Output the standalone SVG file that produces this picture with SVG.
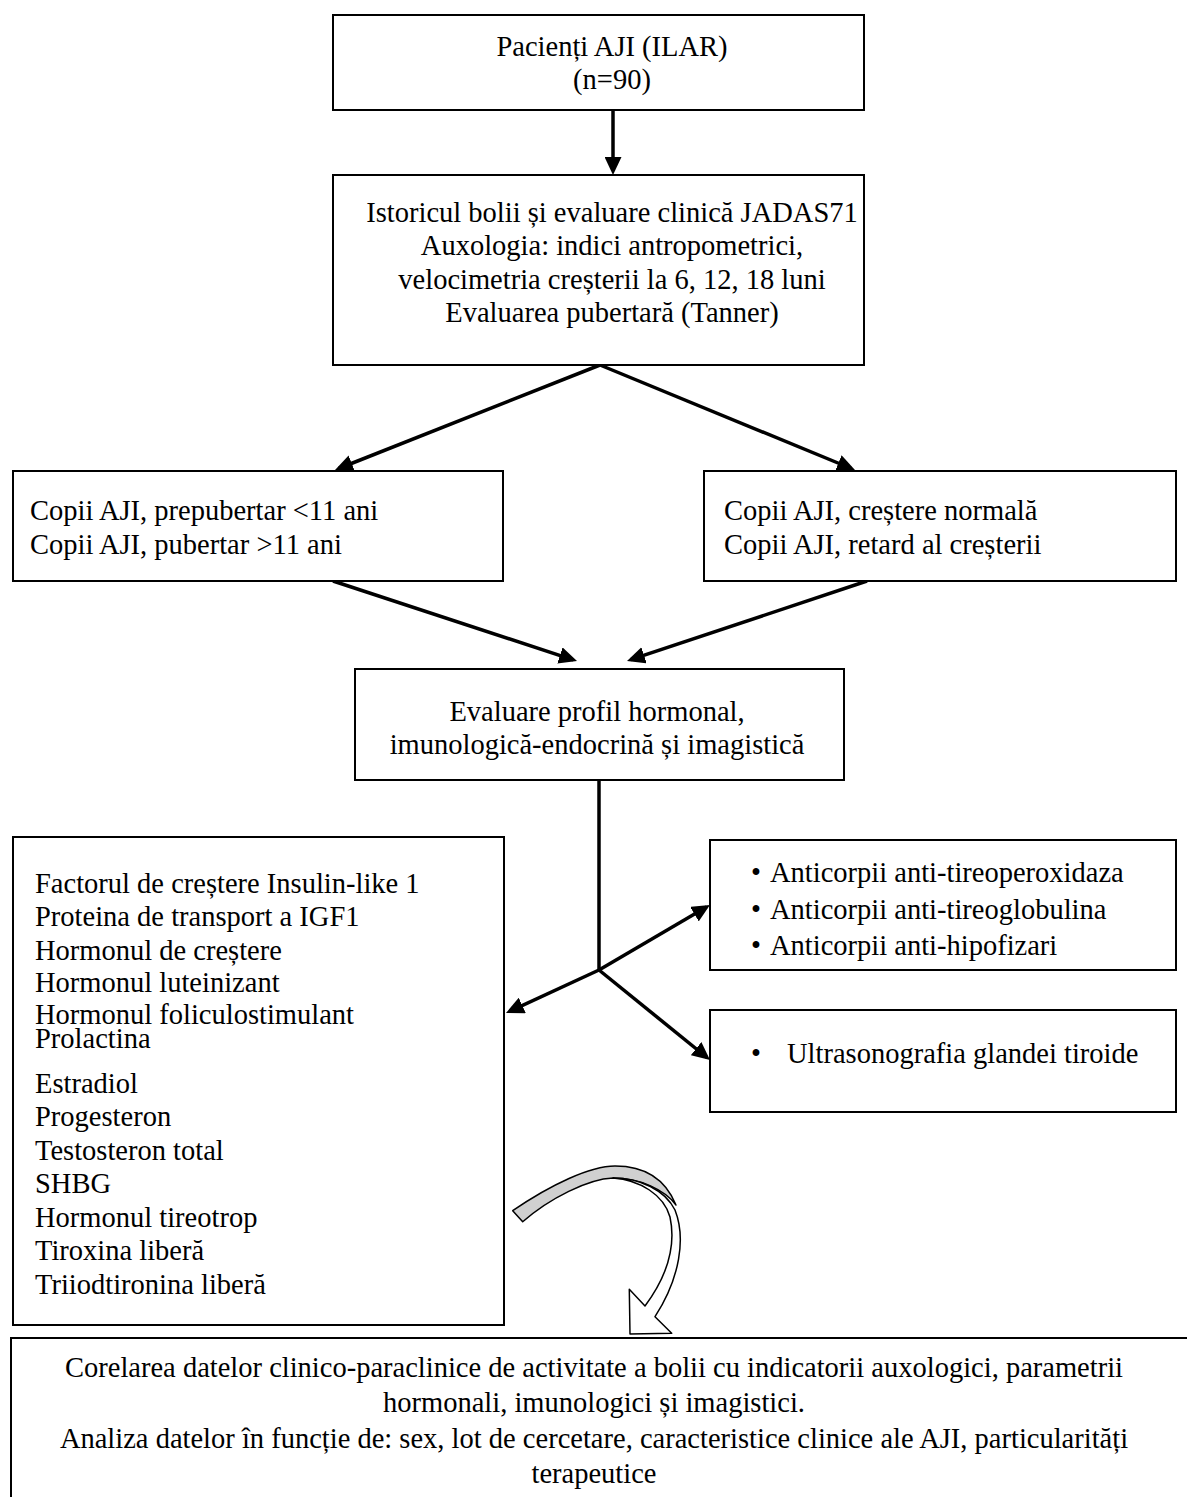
<svg xmlns="http://www.w3.org/2000/svg" width="1187" height="1497" viewBox="0 0 1187 1497">
<style>
.box{fill:#fff;stroke:#000;stroke-width:2}
.t{font-family:"Liberation Serif","Times New Roman",serif;font-size:28.5px;fill:#000}
.c{text-anchor:middle}
.con{stroke:#000;stroke-width:3.5;fill:none}
.arr{marker-end:url(#ah)}
</style>
<defs>
<marker id="ah" viewBox="0 0 18 17" markerWidth="18" markerHeight="17" refX="14" refY="8.5" orient="auto" markerUnits="userSpaceOnUse">
<path d="M0,0 L18,8.5 L0,17 z" fill="#000"/>
</marker>
</defs>
<rect width="1187" height="1497" fill="#fff"/>

<g id="connectors">
<line class="con arr" x1="613" y1="110" x2="613" y2="171"/>
<line class="con arr" x1="600" y1="365" x2="338.7" y2="468.5"/>
<line class="con arr" x1="600" y1="365" x2="851.3" y2="468.5"/>
<line class="con arr" x1="333" y1="581" x2="573.2" y2="659.8"/>
<line class="con arr" x1="867" y1="581" x2="630.8" y2="659.7"/>
<line class="con" x1="599" y1="780" x2="599" y2="971"/>
<line class="con arr" x1="599" y1="970" x2="706.5" y2="907"/>
<line class="con arr" x1="599" y1="970" x2="706.9" y2="1057.5"/>
<line class="con arr" x1="599" y1="970" x2="509.6" y2="1011.3"/>
</g>

<g id="n1">
<rect class="box" x="333" y="15" width="531" height="95"/>
<text class="t c" x="612" y="56">Pacienți AJI (ILAR)</text>
<text class="t c" x="612" y="89">(n=90)</text>
</g>

<g id="n2">
<rect class="box" x="333" y="175" width="531" height="190"/>
<text class="t c" x="612" y="222">Istoricul bolii și evaluare clinică JADAS71</text>
<text class="t c" x="612" y="255">Auxologia: indici antropometrici,</text>
<text class="t c" x="612" y="289">velocimetria creșterii la 6, 12, 18 luni</text>
<text class="t c" x="612" y="322">Evaluarea pubertară (Tanner)</text>
</g>

<g id="n3">
<rect class="box" x="13" y="471" width="490" height="110"/>
<text class="t" x="30" y="520">Copii AJI, prepubertar &lt;11 ani</text>
<text class="t" x="30" y="554">Copii AJI, pubertar &gt;11 ani</text>
</g>

<g id="n4">
<rect class="box" x="704" y="471" width="472" height="110"/>
<text class="t" x="724" y="520">Copii AJI, creștere normală</text>
<text class="t" x="724" y="554">Copii AJI, retard al creșterii</text>
</g>

<g id="n5">
<rect class="box" x="355" y="669" width="489" height="111"/>
<text class="t c" x="597" y="721">Evaluare profil hormonal,</text>
<text class="t c" x="597" y="754">imunologică-endocrină și imagistică</text>
</g>

<g id="n6">
<rect class="box" x="13" y="837" width="491" height="488"/>
<text class="t" x="35" y="893">Factorul de creștere Insulin-like 1</text>
<text class="t" x="35" y="926">Proteina de transport a IGF1</text>
<text class="t" x="35" y="960">Hormonul de creștere</text>
<text class="t" x="35" y="992">Hormonul luteinizant</text>
<text class="t" x="35" y="1024">Hormonul foliculostimulant</text>
<text class="t" x="35" y="1048">Prolactina</text>
<text class="t" x="35" y="1093">Estradiol</text>
<text class="t" x="35" y="1126">Progesteron</text>
<text class="t" x="35" y="1160">Testosteron total</text>
<text class="t" x="35" y="1193">SHBG</text>
<text class="t" x="35" y="1227">Hormonul tireotrop</text>
<text class="t" x="35" y="1260">Tiroxina liberă</text>
<text class="t" x="35" y="1294">Triiodtironina liberă</text>
</g>

<g id="n7">
<rect class="box" x="710" y="840" width="466" height="130"/>
<text class="t" x="751" y="882">•</text>
<text class="t" x="770" y="882">Anticorpii anti-tireoperoxidaza</text>
<text class="t" x="751" y="919">•</text>
<text class="t" x="770" y="919">Anticorpii anti-tireoglobulina</text>
<text class="t" x="751" y="955">•</text>
<text class="t" x="770" y="955">Anticorpii anti-hipofizari</text>
</g>

<g id="n8">
<rect class="box" x="710" y="1010" width="466" height="102"/>
<text class="t" x="751" y="1063">•</text>
<text class="t" x="787" y="1063">Ultrasonografia glandei tiroide</text>
</g>

<g id="curved-arrow">
<path d="M512.7,1210.7 C550,1185 590,1166 615,1166 C645,1166 665,1178 676,1205 C665,1190 640,1178 613,1178 C588,1179 550,1198 522.7,1221.7 Z" fill="#d0d0d0" stroke="#000" stroke-width="1.5" stroke-linejoin="round"/>
<path d="M613,1178 C640,1178 665,1190 675,1210 C686,1238 680,1278 655,1316.7 L671.7,1333.3 L630,1334 L629.3,1289.3 L645,1306 C668,1275 676,1245 670,1217 C664,1195 640,1180 613,1178 Z" fill="#fff" stroke="#000" stroke-width="1.5" stroke-linejoin="round"/>
</g>

<g id="n9">
<rect class="box" x="11" y="1338" width="1190" height="200"/>
<text class="t c" x="594" y="1377">Corelarea datelor clinico-paraclinice de activitate a bolii cu indicatorii auxologici, parametrii</text>
<text class="t c" x="594" y="1412">hormonali, imunologici și imagistici.</text>
<text class="t c" x="594" y="1448">Analiza datelor în funcție de: sex, lot de cercetare, caracteristice clinice ale AJI, particularități</text>
<text class="t c" x="594" y="1483">terapeutice</text>
</g>
</svg>
